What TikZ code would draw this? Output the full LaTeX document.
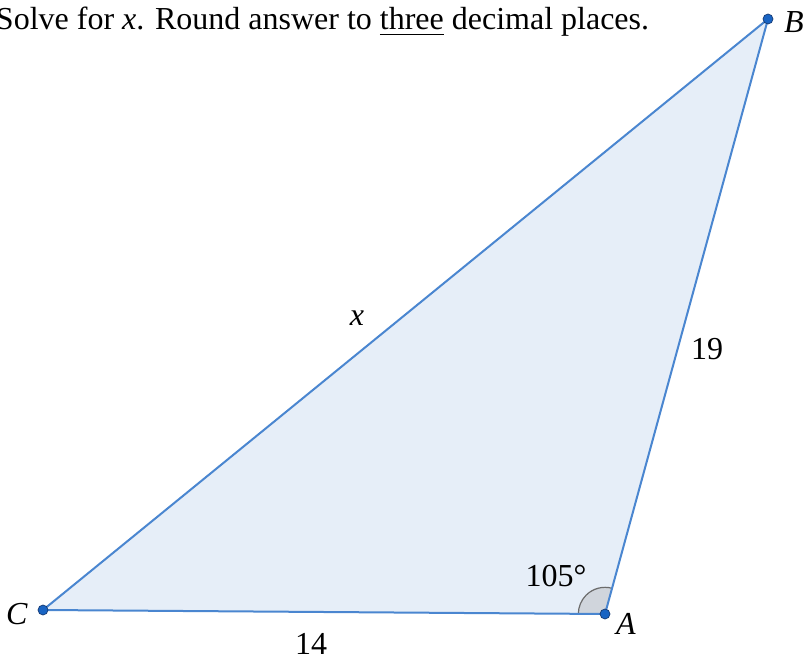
\documentclass[tikz,border=0pt]{standalone}
\usepackage{fontspec}
\setmainfont{Liberation Serif}
\usepackage{amsmath}
\usetikzlibrary{angles}
\usetikzlibrary{positioning}
\definecolor{sideblue}{RGB}{74,134,208}
\definecolor{areablue}{RGB}{230,238,248}
\definecolor{dotblue}{RGB}{25,100,195}
\definecolor{dotrim}{RGB}{20,55,110}
\definecolor{anglegray}{RGB}{208,213,220}
\tikzset{every picture/.style={line width=1.5pt},
  vertex/.style={circle, fill=dotblue, draw=dotrim, line width=0.5pt, inner sep=0pt, minimum size=7.5pt},
  lbl/.style={font=\fontsize{24}{28}\selectfont, inner sep=0pt}}

\begin{document}
\begin{tikzpicture}[x=0.75pt,y=-0.75pt]
\useasboundingbox (0,0) rectangle (804,656);
\coordinate (B) at (768,19);
\coordinate (C) at (43,610);
\coordinate (A) at (605,614);

\fill[areablue] (C) -- (A) -- (B) -- cycle;
\pic[draw=gray!85!black, fill=anglegray, line width=0.9pt, angle radius=20pt] {angle=B--A--C};
\draw[sideblue, line join=round] (C) -- (A) -- (B) -- cycle;

\node (ptA) [vertex] at (A) {};
\node (ptB) [vertex] at (B) {};
\node (ptC) [vertex] at (C) {};

\node (labA) [lbl] at (626,624) {\textit{A}};
\node (labB) [lbl] at (794,22) {\textit{B}};
\node (labC) [lbl] at (17,614) {\textit{C}};
\node (sidex) [lbl] at (357,318) {\textit{x}};
\node (side19) [lbl] at (707,349) {19};
\node (side14) [lbl] at (311,644) {14};
\node (ang) [lbl] at (556,576) {105°};

\node (task) [lbl, anchor=west] at (-5,22) {Solve for \textit{x}. Round answer to \underline{three} decimal places.};
\end{tikzpicture}
\end{document}
